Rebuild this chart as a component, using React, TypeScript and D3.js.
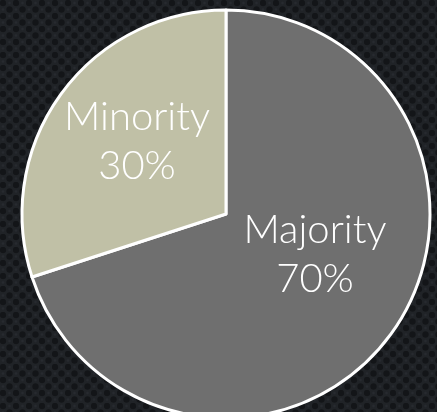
import React from "react";
import * as d3 from "d3";

// data
const categories = ["Majority", "Minority"];
const shares = [70, 30];
const percentLabels = ["70%", "30%"];

const W = 437;
const H = 412;
const cx = 226;
const cy = 214;
const R = 204;

const colors = ["#6f6f6f", "#c0c0a6"];
// nudges so labels sit where the source put them
const labelNudge = [
  { dx: 0, dy: -26 },
  { dx: 0, dy: -9 },
];

export default function App() {
  const pie = d3
    .pie<number>()
    .sort(null)
    .value((d) => d);
  const arcs = pie(shares);

  const arcGen = d3.arc<d3.PieArcDatum<number>>().innerRadius(0).outerRadius(R);
  const labelArc = d3
    .arc<d3.PieArcDatum<number>>()
    .innerRadius(110)
    .outerRadius(110);

  return (
    <svg
      width={W}
      height={H}
      style={{ position: "fixed", left: 0, top: 0, display: "block" }}
    >
      <defs>
        <pattern id="dots" width={13} height={13} patternUnits="userSpaceOnUse">
          <rect width={13} height={13} fill="#202327" />
          <circle cx={3} cy={3} r={3.2} fill="#131518" />
          <circle cx={9.5} cy={9.5} r={3.2} fill="#131518" />
          <circle cx={9.5} cy={3} r={1.2} fill="#272a2f" />
          <circle cx={3} cy={9.5} r={1.2} fill="#272a2f" />
        </pattern>
      </defs>
      <rect width={W} height={H} fill="url(#dots)" />
      <g transform={`translate(${cx},${cy})`}>
        {arcs.map((a, i) => (
          <path
            key={categories[i]}
            d={arcGen(a) ?? ""}
            fill={colors[i]}
            stroke="#ffffff"
            strokeWidth={3}
            strokeLinejoin="round"
          />
        ))}
        {arcs.map((a, i) => {
          const [x, y] = labelArc.centroid(a);
          const lx = x + labelNudge[i].dx;
          const ly = y + labelNudge[i].dy;
          return (
            <text
              key={"l" + categories[i]}
              x={lx}
              y={ly}
              textAnchor="middle"
              fill="#ffffff"
              fontFamily="Lato, 'Open Sans', sans-serif"
              fontWeight={300}
              fontSize={40}
            >
              <tspan x={lx} dy={-10}>
                {categories[i]}
              </tspan>
              <tspan x={lx} dy={49}>
                {percentLabels[i]}
              </tspan>
            </text>
          );
        })}
      </g>
    </svg>
  );
}
